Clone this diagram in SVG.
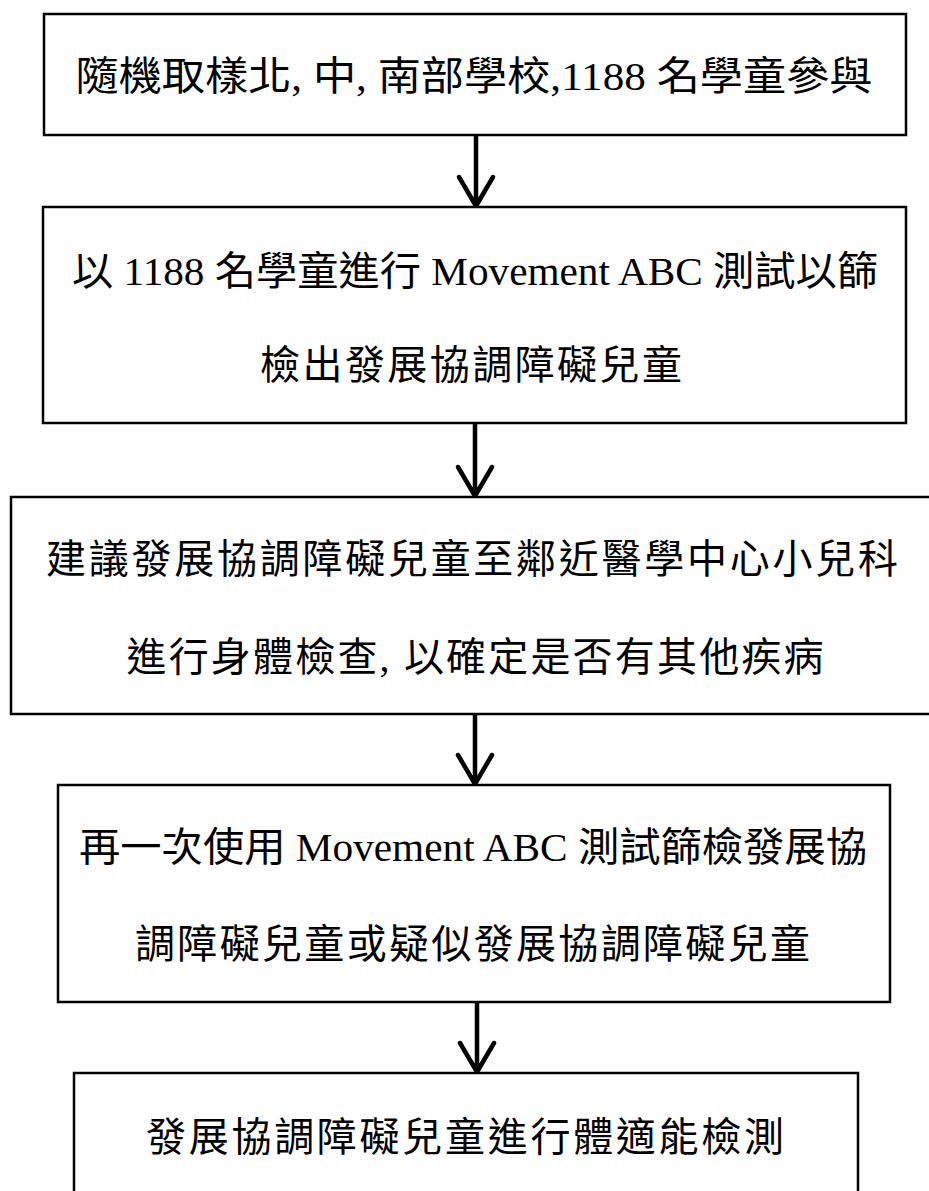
<svg xmlns="http://www.w3.org/2000/svg" width="929" height="1191" viewBox="0 0 929 1191">
<style>
.box{fill:#fff;stroke:#000;stroke-width:2.5}
.t{font-family:"Liberation Serif","Noto Sans CJK TC",serif;font-size:40px;fill:#000;text-anchor:middle}
.arr{fill:none;stroke:#000;stroke-width:4.5;stroke-linecap:round;stroke-linejoin:round}
</style>
<rect width="929" height="1191" fill="#fff"/>
<g id="connectors">
<path class="arr" d="M476 134 V205 M459 177 L476 206 L493 177"/>
<path class="arr" d="M475 423 V495 M458 467 L475 496 L492 467"/>
<path class="arr" d="M475 714 V783 M458 755 L475 784 L492 755"/>
<path class="arr" d="M477 1002 V1071 M460 1043 L477 1072 L494 1043"/>
</g>
<g id="n1">
<rect class="box" x="44" y="14" width="862" height="121"/>
<text class="t" x="474" y="90" textLength="797" lengthAdjust="spacingAndGlyphs">隨機取樣北, 中, 南部學校,1188 名學童參與</text>
</g>
<g id="n2">
<rect class="box" x="43" y="207" width="863" height="216"/>
<text class="t" x="475" y="285" textLength="806" lengthAdjust="spacingAndGlyphs">以 1188 名學童進行 Movement ABC 測試以篩</text>
<text class="t" x="471" y="379" textLength="422" lengthAdjust="spacing">檢出發展協調障礙兒童</text>
</g>
<g id="n3">
<rect class="box" x="11" y="497" width="930" height="217"/>
<text class="t" x="472" y="573" textLength="852" lengthAdjust="spacing">建議發展協調障礙兒童至鄰近醫學中心小兒科</text>
<text class="t" x="475" y="671" textLength="697" lengthAdjust="spacing">進行身體檢查, 以確定是否有其他疾病</text>
</g>
<g id="n4">
<rect class="box" x="58" y="785" width="832" height="217"/>
<text class="t" x="473" y="861" textLength="788" lengthAdjust="spacingAndGlyphs">再一次使用 Movement ABC 測試篩檢發展協</text>
<text class="t" x="472.5" y="958" textLength="675" lengthAdjust="spacing">調障礙兒童或疑似發展協調障礙兒童</text>
</g>
<g id="n5">
<rect class="box" x="74" y="1073" width="784" height="140"/>
<text class="t" x="465" y="1151" textLength="638" lengthAdjust="spacing">發展協調障礙兒童進行體適能檢測</text>
</g>
</svg>
